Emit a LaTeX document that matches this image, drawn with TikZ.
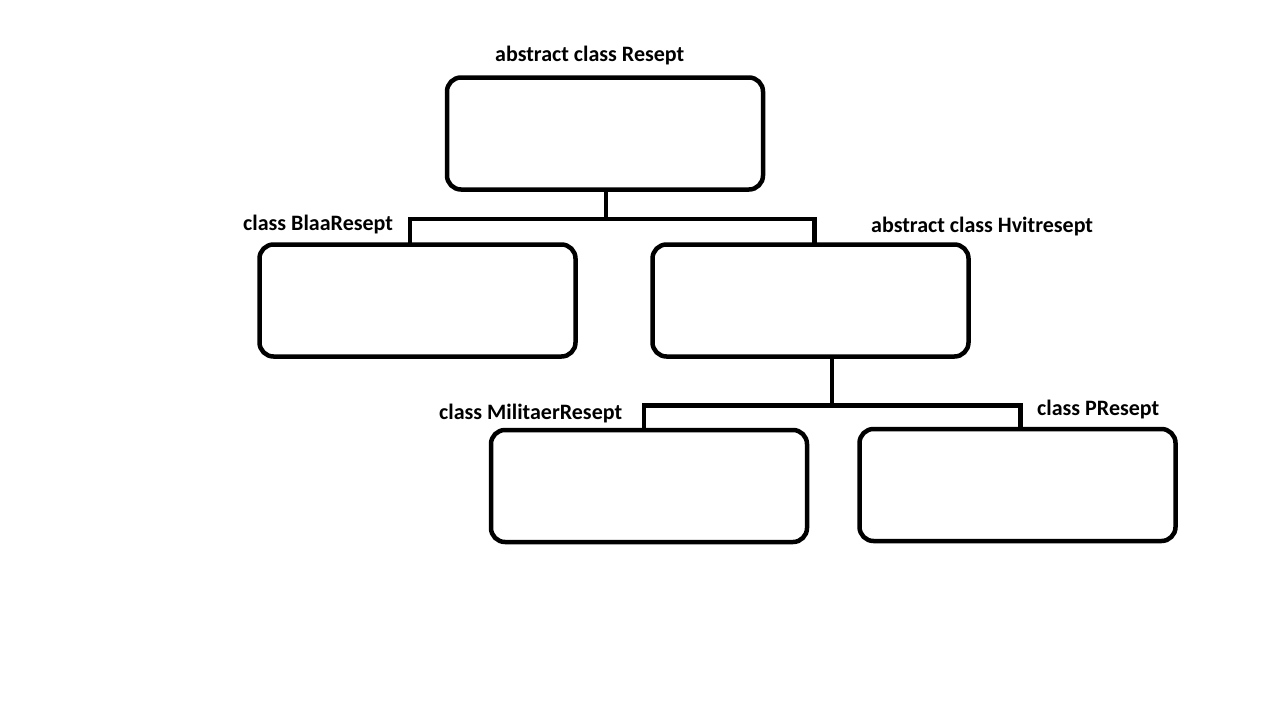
\documentclass[tikz,border=0pt]{standalone}
\usepackage{fontspec}
\setmainfont{Carlito}
\begin{document}
\begin{tikzpicture}[x=1pt,y=-1pt,
  classbox/.style={draw, line width=4.5pt, rounded corners=14pt, minimum width=316pt, minimum height=112pt, inner sep=0pt},
  conn/.style={draw, line width=4.5pt, line join=miter},
  lbl/.style={anchor=base west, inner sep=0pt, font=\fontsize{22}{25}\selectfont\bfseries}]
\useasboundingbox (0,0) rectangle (1268,702);
\node[classbox] (resept) at (605,133.5) {};
\node[classbox] (blaa) at (417.5,300.5) {};
\node[classbox] (hvit) at (810.5,300.5) {};
\node[classbox] (mil) at (649,486) {};
\node[classbox] (pres) at (1017.5,485) {};
\node[lbl] (lresept) at (495,61) {abstract class Resept};
\node[lbl] (lblaa) at (243,230) {class BlaaResept};
\node[lbl] (lhvit) at (871,232) {abstract class Hvitresept};
\node[lbl] (lmil) at (439,419) {class MilitaerResept};
\node[lbl] (lpres) at (1037,415) {class PResept};
\coordinate (j1) at (606,219);
\coordinate (b1) at (410,244.5);
\coordinate (h1) at (814.5,244.5);
\coordinate (j2) at (832,405.5);
\coordinate (m1) at (644,430.5);
\coordinate (p1) at (1020.5,429.5);
\draw[conn] (resept.south -| j1) -- (j1);
\draw[conn] (b1) -- (b1 |- j1) -- (h1 |- j1) -- (h1);
\draw[conn] (hvit.south -| j2) -- (j2);
\draw[conn] (m1) -- (m1 |- j2) -- (p1 |- j2) -- (p1);
\end{tikzpicture}
\end{document}
